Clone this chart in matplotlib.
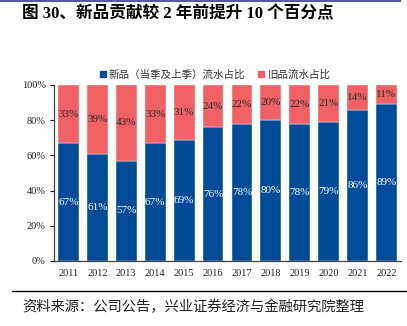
import matplotlib
matplotlib.use("Agg")
import matplotlib.pyplot as plt
from matplotlib.lines import Line2D

years = ["2011", "2012", "2013", "2014", "2015", "2016", "2017", "2018", "2019", "2020", "2021", "2022"]
new_share = [67, 61, 57, 67, 69, 76, 78, 80, 78, 79, 86, 89]
old_share = [33, 39, 43, 33, 31, 24, 22, 20, 22, 21, 14, 11]
yticks = [0, 20, 40, 60, 80, 100]
series_names = ["新品（当季及上季）流水占比", "旧品流水占比"]
title = "图 30、新品贡献较 2 年前提升 10 个百分点"
source = "资料来源：公司公告，兴业证券经济与金融研究院整理"

BLUE = "#004B97"
RED = "#F06163"
SERIF = ["Liberation Serif", "Noto Sans CJK SC"]
CJK = ["Noto Sans CJK SC", "Liberation Serif"]

fig = plt.figure(figsize=(4.07, 3.26), dpi=100)
ax = fig.add_axes([54/407, 1-261/326, (401-54)/407, (261-85)/326])

x = list(range(len(years)))
ax.bar(x, new_share, width=0.72, color=BLUE, edgecolor="white", linewidth=0.3)
ax.bar(x, old_share, width=0.72, bottom=new_share, color=RED, edgecolor="white", linewidth=0.3)

for i in x:
    ax.text(i, new_share[i] / 2, f"{new_share[i]}%", ha="center", va="center",
            color="white", fontsize=8, family=SERIF)
    ax.text(i, new_share[i] + old_share[i] / 2, f"{old_share[i]}%", ha="center", va="center",
            color="#2a2a2a", fontsize=8, family=SERIF)

ax.set_xlim(-0.5, 11.5)
ax.set_ylim(0, 100)
ax.set_yticks(yticks)
ax.set_yticklabels([f"{v}%" for v in yticks], family=SERIF, fontsize=7.5, color="#222222")
ax.set_xticks(x)
ax.set_xticklabels(years, family=SERIF, fontsize=7.5, color="#222222")
ax.tick_params(axis="y", length=3, width=0.8, pad=3, direction="out")
ax.tick_params(axis="x", length=0, pad=6)
for s in ["top", "right"]:
    ax.spines[s].set_visible(False)
for s in ["left", "bottom"]:
    ax.spines[s].set_color("#444444")
    ax.spines[s].set_linewidth(0.9)

handles = [Line2D([], [], marker="s", color="none", markerfacecolor=BLUE, markeredgecolor=BLUE, markersize=5),
           Line2D([], [], marker="s", color="none", markerfacecolor=RED, markeredgecolor=RED, markersize=5)]
leg = fig.legend(handles, series_names, loc="center", bbox_to_anchor=(215/407, 1-75/326), ncol=2,
                 frameon=False, prop={"family": CJK, "size": 7.6}, handlelength=0.6,
                 handletextpad=0.3, columnspacing=1.2)
for t in leg.get_texts():
    t.set_color("#333333")

fig.text(22/407, 1-14/326, title, ha="left", va="center", fontsize=12, fontweight="bold",
         family=SERIF, color="black")
fig.add_artist(Line2D([0, 400/407], [1-0.8/326, 1-0.8/326], color="#5A5A9A", linewidth=1.5))
fig.add_artist(Line2D([12/407, 1], [1-291/326, 1-291/326], color="black", linewidth=1.0))
fig.text(22/407, 1-307/326, source, ha="left", va="center", fontsize=10.3, family=CJK, color="#222222")

fig.savefig("out.png", dpi=100)
